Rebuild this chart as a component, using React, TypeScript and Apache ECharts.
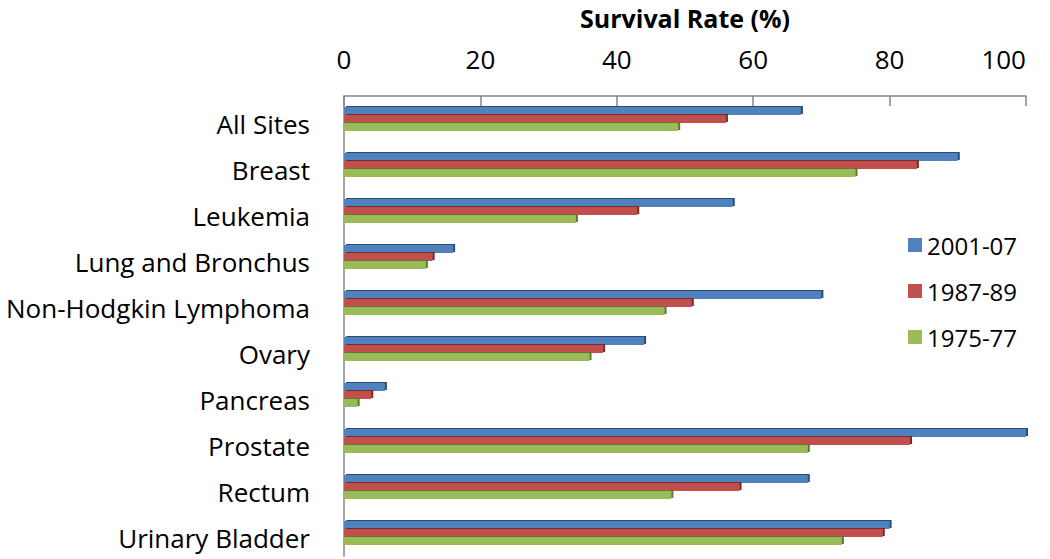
import React, { useEffect, useRef } from "react";
import * as echarts from "echarts";

const categories = [
  "All Sites",
  "Breast",
  "Leukemia",
  "Lung and Bronchus",
  "Non-Hodgkin Lymphoma",
  "Ovary",
  "Pancreas",
  "Prostate",
  "Rectum",
  "Urinary Bladder",
];
const s2001 = [67, 90, 57, 16, 70, 44, 6, 100, 68, 80];
const s1987 = [56, 84, 43, 13, 51, 38, 4, 83, 58, 79];
const s1975 = [49, 75, 34, 12, 47, 36, 2, 68, 48, 73];
const seriesNames = ["2001-07", "1987-89", "1975-77"];
const xTicks = { min: 0, max: 100, interval: 20 };

const FONT = "Open Sans";

export default function App() {
  const ref = useRef<HTMLDivElement>(null);
  useEffect(() => {
    if (!ref.current) return;
    const chart = echarts.init(ref.current, undefined, { renderer: "svg" });
    const mk = (name: string, data: number[], color: string, dark: string) => ({
      name,
      type: "bar",
      data,
      barGap: "0%",
      barCategoryGap: "48%",
      itemStyle: {
        color,
        shadowColor: dark,
        shadowOffsetX: 2,
        shadowOffsetY: -1,
        shadowBlur: 0,
      },
    });
    chart.setOption({
      animation: false,
      textStyle: { fontFamily: FONT },
      grid: { left: 344, right: 24, top: 96, bottom: 3, containLabel: false },
      legend: {
        orient: "vertical",
        left: 903,
        top: 228,
        itemWidth: 14,
        itemHeight: 14,
        itemGap: 22,
        icon: "rect",
        textStyle: { fontSize: 24, color: "#000", fontFamily: FONT },
        data: seriesNames,
      },
      xAxis: {
        type: "value",
        position: "top",
        min: xTicks.min,
        max: xTicks.max,
        interval: xTicks.interval,
        name: "Survival Rate (%)",
        nameLocation: "middle",
        nameGap: 66,
        nameTextStyle: { fontSize: 25, fontWeight: "bold", color: "#000", fontFamily: FONT },
        axisLine: { show: true, lineStyle: { color: "#868686", width: 1.5 } },
        axisTick: { show: true, inside: true, length: 10, lineStyle: { color: "#868686", width: 1.5 } },
        axisLabel: { fontSize: 26, color: "#000", margin: 24, fontFamily: FONT, alignMaxLabel: "right" },
        splitLine: { show: false },
      },
      yAxis: {
        type: "category",
        inverse: true,
        data: categories,
        axisLine: { show: true, lineStyle: { color: "#868686", width: 1.5 } },
        axisTick: { show: false },
        axisLabel: {
          fontSize: 26,
          color: "#000",
          margin: 34,
          fontFamily: FONT,
          verticalAlign: "top",
          lineHeight: 10,
        },
      },
      series: [
        mk(seriesNames[0], s2001, "#4F81BD", "#2C4D75"),
        mk(seriesNames[1], s1987, "#C0504D", "#772C2A"),
        mk(seriesNames[2], s1975, "#9BBB59", "#5F7530"),
      ],
    });
    return () => chart.dispose();
  }, []);
  return (
    <div
      ref={ref}
      style={{ position: "fixed", left: 0, top: 0, width: 1050, height: 559, background: "#fff" }}
    />
  );
}
